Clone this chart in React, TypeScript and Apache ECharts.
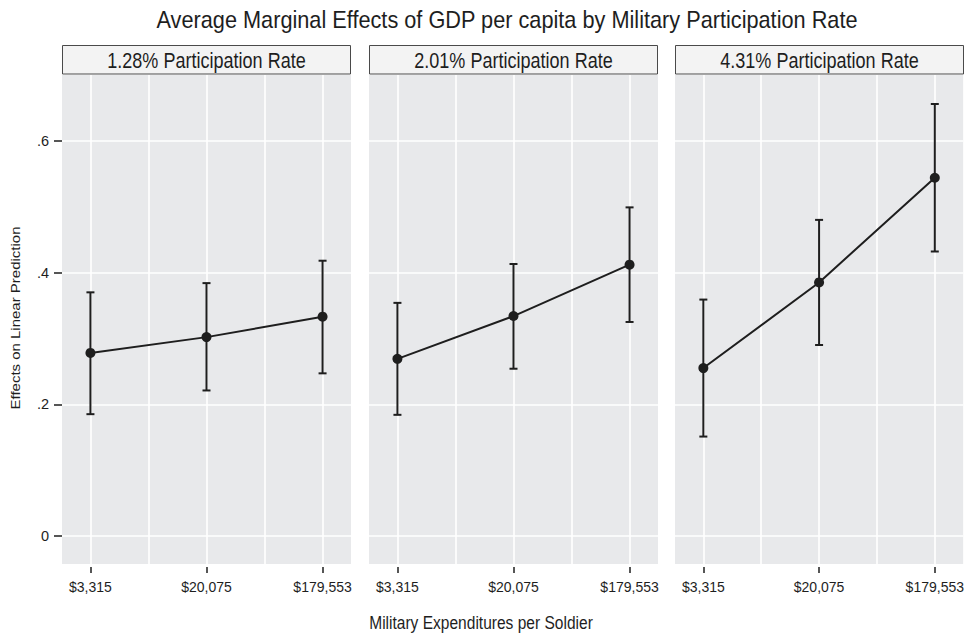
import React, { useEffect, useRef } from "react";
import * as echarts from "echarts";

const TITLE = "Average Marginal Effects of GDP per capita by Military Participation Rate";
const X_TITLE = "Military Expenditures per Soldier";
const Y_TITLE = "Effects on Linear Prediction";
const PANELS = ["1.28% Participation Rate", "2.01% Participation Rate", "4.31% Participation Rate"];
const CATEGORIES = ["$3,315", "$20,075", "$179,553"];
const Y_TICKS = [0, 0.2, 0.4, 0.6];
const Y_TICK_LABELS = ["0", ".2", ".4", ".6"];

// estimates and 95% CI per panel
const EST_128 = [0.278, 0.302, 0.333];
const LO_128 = [0.185, 0.221, 0.247];
const HI_128 = [0.370, 0.384, 0.418];

const EST_201 = [0.269, 0.334, 0.412];
const LO_201 = [0.184, 0.254, 0.325];
const HI_201 = [0.354, 0.413, 0.499];

const EST_431 = [0.255, 0.385, 0.544];
const LO_431 = [0.151, 0.290, 0.432];
const HI_431 = [0.359, 0.480, 0.656];

const SERIES = [
  { est: EST_128, lo: LO_128, hi: HI_128 },
  { est: EST_201, lo: LO_201, hi: HI_201 },
  { est: EST_431, lo: LO_431, hi: HI_431 },
];

const FONT = "'Liberation Sans', Arial, sans-serif";
const INK = "#1e1e1e";
const PLOT_BG = "#e8e9eb";

const GRID_LEFTS = [62, 369, 675];
const GRID_W = 289;
const GRID_TOP = 75;
const GRID_H = 489;
const X_MIN = -0.245;
const X_MAX = 2.245;
const Y_MIN = -0.0425;
const Y_MAX = 0.7;
const X_GRID = [0, 0.5, 1, 1.5, 2];

export default function App() {
  const ref = useRef<HTMLDivElement>(null);

  useEffect(() => {
    if (!ref.current) return;
    const chart = echarts.init(ref.current, undefined, { renderer: "svg" });

    const grids = GRID_LEFTS.map((left) => ({
      left,
      top: GRID_TOP,
      width: GRID_W,
      height: GRID_H,
      show: true,
      backgroundColor: PLOT_BG,
      borderWidth: 0,
    }));

    const xAxes = GRID_LEFTS.map((_, i) => ({
      type: "value",
      gridIndex: i,
      min: X_MIN,
      max: X_MAX,
      offset: 3,
      axisLine: { show: false, onZero: false },
      splitLine: { show: false },
      axisTick: {
        show: true,
        customValues: [0, 1, 2],
        length: 6,
        lineStyle: { color: INK, width: 1.5 },
      },
      axisLabel: {
        show: true,
        customValues: [0, 1, 2],
        formatter: (v: number) => CATEGORIES[Math.round(v)] ?? "",
        fontFamily: FONT,
        fontSize: 14,
        color: INK,
        margin: 13,
      },
    }));

    const yAxes = GRID_LEFTS.map((_, i) => ({
      type: "value",
      gridIndex: i,
      min: Y_MIN,
      max: Y_MAX,
      axisLine: { show: false, onZero: false },
      splitLine: { show: false },
      axisTick: {
        show: i === 0,
        customValues: Y_TICKS,
        length: 8,
        lineStyle: { color: INK, width: 1.5 },
      },
      axisLabel: {
        show: i === 0,
        customValues: Y_TICKS,
        formatter: (v: number) => {
          const k = Y_TICKS.findIndex((t) => Math.abs(t - v) < 1e-9);
          return k >= 0 ? Y_TICK_LABELS[k] : "";
        },
        fontFamily: FONT,
        fontSize: 14.5,
        color: INK,
        margin: 13,
      },
    }));

    const series: any[] = [];
    SERIES.forEach((s, i) => {
      const pts = s.est.map((e, k) => [k, e]);
      // gridlines
      series.push({
        type: "line",
        xAxisIndex: i,
        yAxisIndex: i,
        data: pts,
        showSymbol: false,
        lineStyle: { opacity: 0 },
        silent: true,
        z: 1,
        markLine: {
          silent: true,
          z: 1,
          symbol: ["none", "none"],
          label: { show: false },
          lineStyle: { color: "#ffffff", width: 1.6, type: "solid" },
          emphasis: { disabled: true },
          data: [
            ...X_GRID.map((v) => ({ xAxis: v })),
            ...Y_TICKS.map((v) => ({ yAxis: v })),
          ],
        },
      });
      // error bars
      series.push({
        type: "custom",
        xAxisIndex: i,
        yAxisIndex: i,
        z: 6,
        data: s.est.map((e, k) => [k, e, s.lo[k], s.hi[k]]),
        renderItem: (params: any, api: any) => {
          const x = api.value(0);
          const top = api.coord([x, api.value(3)]);
          const bot = api.coord([x, api.value(2)]);
          const cap = 4;
          const style = { stroke: INK, lineWidth: 2 };
          return {
            type: "group",
            children: [
              { type: "line", shape: { x1: top[0], y1: top[1], x2: bot[0], y2: bot[1] }, style },
              { type: "line", shape: { x1: top[0] - cap, y1: top[1], x2: top[0] + cap, y2: top[1] }, style },
              { type: "line", shape: { x1: bot[0] - cap, y1: bot[1], x2: bot[0] + cap, y2: bot[1] }, style },
            ],
          };
        },
      });
      // estimates
      series.push({
        type: "line",
        xAxisIndex: i,
        yAxisIndex: i,
        z: 7,
        data: pts,
        symbol: "circle",
        symbolSize: 10,
        itemStyle: { color: INK },
        lineStyle: { color: INK, width: 2 },
      });
    });

    const graphic: any[] = [
      {
        type: "text",
        x: 507,
        y: 20,
        scaleX: 0.905,
        style: {
          text: TITLE,
          fontFamily: FONT,
          fontSize: 24,
          fill: INK,
          align: "center",
          verticalAlign: "middle",
        },
      },
      {
        type: "text",
        x: 481,
        y: 623,
        scaleX: 0.84,
        style: {
          text: X_TITLE,
          fontFamily: FONT,
          fontSize: 18.5,
          fill: INK,
          align: "center",
          verticalAlign: "middle",
        },
      },
      {
        type: "text",
        x: 15,
        y: 318,
        rotation: Math.PI / 2,
        scaleY: 0.85,
        style: {
          text: Y_TITLE,
          fontFamily: FONT,
          fontSize: 15,
          fill: INK,
          align: "center",
          verticalAlign: "middle",
        },
      },
    ];
    GRID_LEFTS.forEach((left, i) => {
      graphic.push({
        type: "rect",
        shape: { x: left + 0.5, y: 45.5, width: GRID_W - 1, height: 28.5 },
        style: { fill: "#f3f3f3", stroke: "#4a4a4a", lineWidth: 1 },
      });
      graphic.push({
        type: "text",
        x: left + GRID_W / 2,
        y: 60,
        scaleX: 0.82,
        style: {
          text: PANELS[i],
          fontFamily: FONT,
          fontSize: 22,
          fill: INK,
          align: "center",
          verticalAlign: "middle",
        },
      });
    });

    chart.setOption({
      animation: false,
      backgroundColor: "#ffffff",
      grid: grids,
      xAxis: xAxes,
      yAxis: yAxes,
      series,
      graphic,
    });

    return () => chart.dispose();
  }, []);

  return (
    <div
      ref={ref}
      style={{ position: "fixed", left: 0, top: 0, width: 967, height: 636 }}
    />
  );
}
